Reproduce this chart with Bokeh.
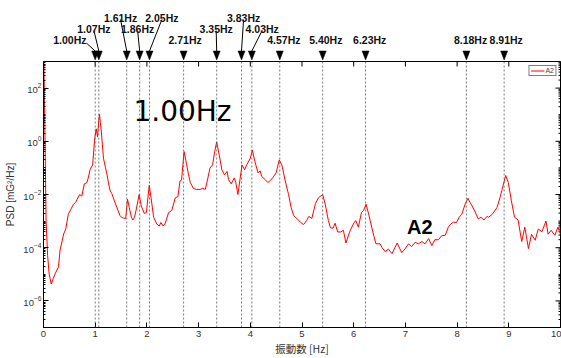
import math
from bokeh.plotting import figure
from bokeh.layouts import column
from bokeh.models import Span, FixedTicker, Range1d
from bokeh.core.properties import value
from bokeh.embed import file_html
from bokeh.resources import INLINE

# ---------------- data ----------------
freq = [0.00, 0.03, 0.05, 0.08, 0.11, 0.15, 0.19, 0.23, 0.29, 0.32, 0.36, 0.39, 0.43,
        0.48, 0.53, 0.58, 0.62, 0.65, 0.70, 0.74, 0.79, 0.84, 0.87, 0.90, 0.95, 0.97,
        0.99, 1.02, 1.045, 1.065, 1.083, 1.10, 1.12, 1.16, 1.20, 1.23, 1.26, 1.29, 1.32,
        1.35, 1.42, 1.48, 1.51, 1.55, 1.59, 1.625, 1.66, 1.70, 1.73, 1.76, 1.79, 1.85,
        1.89, 1.95, 1.99, 2.045, 2.08, 2.13, 2.19, 2.24, 2.27, 2.31, 2.35, 2.42, 2.48,
        2.55, 2.60, 2.64, 2.67, 2.72, 2.77, 2.80, 2.84, 2.90, 2.96, 3.03, 3.08, 3.13,
        3.18, 3.22, 3.27, 3.31, 3.35, 3.40, 3.45, 3.50, 3.55, 3.58, 3.63, 3.69, 3.72,
        3.76, 3.80, 3.84, 3.89, 3.93, 4.00, 4.04, 4.09, 4.15, 4.19, 4.22, 4.29, 4.34,
        4.42, 4.50, 4.56, 4.61, 4.67, 4.74, 4.79, 4.84, 4.90, 4.97, 5.03, 5.09, 5.13,
        5.19, 5.26, 5.32, 5.40, 5.45, 5.51, 5.55, 5.60, 5.64, 5.69, 5.75, 5.80, 5.85,
        5.92, 6.00, 6.04, 6.09, 6.15, 6.19, 6.24, 6.29, 6.37, 6.43, 6.51, 6.55, 6.61,
        6.67, 6.74, 6.84, 6.93, 6.99, 7.06, 7.12, 7.19, 7.25, 7.32, 7.38, 7.45, 7.51,
        7.57, 7.64, 7.70, 7.77, 7.83, 7.88, 7.93, 7.99, 8.04, 8.09, 8.16, 8.21, 8.25,
        8.29, 8.35, 8.41, 8.46, 8.52, 8.58, 8.61, 8.68, 8.77, 8.83, 8.87, 8.94, 8.99,
        9.05, 9.11, 9.18, 9.25, 9.31, 9.38, 9.44, 9.51, 9.57, 9.64, 9.72, 9.76, 9.82,
        9.89, 9.95, 10.00]
psd = [1e4, 1.0, 1e-3, 5.0e-5, 1.0e-5, 4.3e-6, 7.1e-6, 1.1e-5, 1.9e-5, 8.1e-5, 1.8e-4,
       3.3e-4, 5.0e-4, 1.8e-3, 2.8e-3, 4.3e-3, 5.0e-3, 6.6e-3, 1.0e-2, 8.7e-3, 2.5e-2,
       2.8e-2, 4.5e-2, 8.5e-2, 0.13, 0.4, 1.26, 2.95, 1.45, 5.0, 10.5, 5.0, 2.2, 0.23,
       0.1, 0.055, 0.025, 0.0135, 0.011, 7.6e-3, 3.2e-3, 1.6e-3, 1.4e-3, 1.3e-3, 1.26e-3,
       6.6e-3, 3.2e-3, 1.4e-3, 1.1e-3, 1.4e-3, 2.5e-3, 0.01, 3.7e-3, 1.95e-3, 2.1e-3,
       0.022, 7.6e-3, 1.4e-3, 7.8e-4, 6.5e-4, 8.9e-4, 6.6e-4, 7.8e-4, 2.1e-3, 2.5e-3,
       7.6e-3, 8.3e-3, 0.032, 0.035, 0.41, 0.13, 0.063, 0.028, 0.017, 0.0155, 0.0155,
       0.017, 0.0155, 0.042, 0.098, 0.13, 0.4, 0.95, 0.30, 0.085, 0.055, 0.074, 0.036,
       0.025, 0.042, 0.028, 0.01, 0.036, 0.13, 0.085, 0.13, 0.23, 0.47, 0.17, 0.065,
       0.078, 0.048, 0.036, 0.028, 0.039, 0.065, 0.20, 0.13, 0.036, 0.01, 3.2e-3, 1.6e-3,
       1.26e-3, 9.1e-4, 7.4e-4, 1.05e-3, 1.5e-3, 1.26e-3, 4.6e-3, 7.6e-3, 0.01, 4.3e-3,
       1.05e-3, 5.6e-4, 5.4e-4, 8.3e-4, 3.9e-4, 3.9e-4, 4.5e-4, 1.5e-4, 3.9e-4, 8.3e-4,
       1.05e-3, 5.9e-4, 2.1e-3, 2.5e-3, 4.3e-3, 1.8e-3, 3.9e-4, 1.4e-4, 1.4e-4, 1.0e-4,
       7.1e-5, 8.9e-5, 6.0e-5, 1.5e-4, 6.5e-5, 8.9e-5, 1.4e-4, 1.1e-4, 1.6e-4, 1.4e-4,
       1.7e-4, 1.4e-4, 2.2e-4, 1.2e-4, 2.0e-4, 2.0e-4, 2.8e-4, 2.9e-4, 5.9e-4, 7.9e-4,
       9.1e-4, 8.9e-4, 1.4e-3, 1.8e-3, 4.6e-3, 7.2e-3, 5.0e-3, 3.7e-3, 2.2e-3, 1.2e-3,
       1.4e-3, 1.1e-3, 1.5e-3, 1.4e-3, 1.8e-3, 3.2e-3, 7.6e-3, 0.0155, 0.052, 0.028,
       5.8e-3, 1.4e-3, 1.1e-3, 1.7e-4, 5.9e-4, 9.3e-5, 3.2e-4, 1.9e-4, 5.0e-4, 4.0e-4,
       1.0e-3, 3.2e-4, 4.5e-4, 2.9e-4, 5.9e-4, 3.2e-4]

peak_freqs = [1.00, 1.07, 1.61, 1.86, 2.05, 2.71, 3.35, 3.83, 4.03, 4.57, 5.40, 6.23, 8.18, 8.91]
peak_labels = ["1.00Hz", "1.07Hz", "1.61Hz", "1.86Hz", "2.05Hz", "2.71Hz", "3.35Hz",
               "3.83Hz", "4.03Hz", "4.57Hz", "5.40Hz", "6.23Hz", "8.18Hz", "8.91Hz"]
x_ticks = [0, 1, 2, 3, 4, 5, 6, 7, 8, 9, 10]
y_ticks = [1e-6, 1e-4, 1e-2, 1e0, 1e2]
series_name = "A2"
highlight_text = "1.00Hz"

# ---------------- layout (placement of the peak labels) ----------------
label_cx = [0.51, 0.975, 1.49, 1.82, 2.29, 2.74, 3.34, 3.87, 4.23, 4.65, 5.46, 6.31, 8.26, 8.95]
label_row = [3, 2, 1, 2, 1, 3, 2, 1, 2, 3, 3, 3, 3, 3]
row_base = {1: 42.5, 2: 31.5, 3: 20.5}   # text baseline, px above the annotation strip bottom

W = 561
BL, BR = 43, 1
HT = 60                 # annotation strip height
HM = 358 - HT           # main figure height
FW = W - BL - BR
PPX = FW / 10.0
TRI_HW = 3.5 / PPX      # half width of the marker triangles (data units)
TRI_TIP, TRI_TOP = 0.5, 9.5

xr = Range1d(0, 10)
tick_font = "Liberation Sans"

# ---------------- annotation strip above the frame ----------------
ann = figure(width=W, height=HT, x_range=xr, y_range=Range1d(0, HT),
             min_border_left=BL, min_border_right=BR, min_border_top=0, min_border_bottom=0,
             x_axis_location=None, y_axis_location=None, output_backend="svg",
             toolbar_location=None)
ann.outline_line_color = None
ann.xgrid.visible = False
ann.ygrid.visible = False
ann.background_fill_color = "white"
ann.border_fill_color = "white"

HW = 16.5 / PPX
sx0, sy0, sx1, sy1 = [], [], [], []
for f, cx, row in zip(peak_freqs, label_cx, label_row):
    base = row_base[row]
    if abs(f - cx) > HW:
        sx0.append(cx + HW * (1 if f > cx else -1)); sy0.append(base - 3)
    elif row < 3:
        sx0.append(cx); sy0.append(base - 1.5)
    else:
        continue
    sx1.append(f); sy1.append(TRI_TOP)
ann.segment(x0=sx0, y0=sy0, x1=sx1, y1=sy1, line_color="black", line_width=1)
ann.patches(xs=[[f - TRI_HW, f + TRI_HW, f] for f in peak_freqs],
            ys=[[TRI_TOP, TRI_TOP, TRI_TIP] for _ in peak_freqs],
            fill_color="black", line_color="black", line_width=0.5)
ann.text(x=label_cx, y=[row_base[r] for r in label_row], text=peak_labels,
         text_align="center", text_baseline="alphabetic",
         text_font=value(tick_font), text_font_style="bold",
         text_font_size=value("10.5px"), text_color="#111111")

# ---------------- main PSD plot ----------------
p = figure(width=W, height=HM, x_range=xr, y_range=Range1d(1e-7, 1e3), y_axis_type="log",
           output_backend="svg", toolbar_location=None,
           min_border_left=BL, min_border_right=BR, min_border_top=1, min_border_bottom=0)
p.background_fill_color = "white"
p.border_fill_color = "white"
p.outline_line_color = "black"
p.outline_line_width = 1
p.xgrid.visible = False
p.ygrid.visible = False

minor_y = [m * 10 ** e for e in range(-7, 3) for m in range(1, 10)
           if not (m == 1 and 10 ** e in y_ticks)]

for ax in p.yaxis:
    ax.ticker = FixedTicker(ticks=y_ticks, minor_ticks=minor_y)
    ax.major_tick_in = 5
    ax.major_tick_out = 0
    ax.minor_tick_in = 2
    ax.minor_tick_out = 0
    ax.major_label_text_font = tick_font
    ax.major_label_text_font_size = "9.5px"
    ax.major_label_text_color = "#333333"
    ax.major_label_standoff = 2
    ax.axis_label = "PSD [mG²/Hz]"
    ax.axis_label_text_font = tick_font
    ax.axis_label_text_font_size = "10px"
    ax.axis_label_text_font_style = "normal"
    ax.axis_label_text_color = "#333333"
    ax.axis_label_standoff = 4

for ax in p.xaxis:
    ax.ticker = FixedTicker(ticks=x_ticks)
    ax.major_tick_in = 5
    ax.major_tick_out = 0
    ax.minor_tick_line_color = None
    ax.major_label_text_font = tick_font
    ax.major_label_text_font_size = "9.5px"
    ax.major_label_text_color = "#333333"
    ax.major_label_standoff = 3
    ax.axis_label = "振動数 [Hz]"
    ax.axis_label_text_font = "Noto Sans CJK JP"
    ax.axis_label_text_font_size = "10.5px"
    ax.axis_label_text_font_style = "normal"
    ax.axis_label_text_color = "#333333"
    ax.axis_label_standoff = 1

# inward tick marks on the top and right frame edges (half of each dash is clipped)
p.scatter(x=x_ticks, y=[1e3] * len(x_ticks), marker="dash", size=10, angle=math.pi / 2,
          line_color="black", line_width=1)
p.scatter(x=[10] * len(y_ticks), y=y_ticks, marker="dash", size=10,
          line_color="black", line_width=1)
p.scatter(x=[10] * len(minor_y), y=minor_y, marker="dash", size=4,
          line_color="black", line_width=1)

for f in peak_freqs:
    p.add_layout(Span(location=f, dimension="height", line_color="#555555",
                      line_dash="2 2", line_width=0.8))

p.line(freq, psd, line_color="red", line_width=1, legend_label=series_name)

p.text(x=[1.74], y=[10 ** 1.12], text=[highlight_text], text_font=value("DejaVu Sans"),
       text_font_size=value("28px"), text_color="black", text_baseline="alphabetic")
p.text(x=[7.03], y=[10 ** -3.23], text=[series_name], text_font=value(tick_font),
       text_font_style="bold", text_font_size=value("20px"), text_color="black",
       text_baseline="alphabetic")

lg = p.legend[0]
lg.location = "top_right"
lg.margin = 4
lg.padding = 1
lg.spacing = 0
lg.glyph_width = 14
lg.glyph_height = 7
lg.label_height = 7
lg.label_width = 8
lg.label_standoff = 1
lg.label_text_font = tick_font
lg.label_text_font_size = "7px"
lg.border_line_color = "black"
lg.border_line_width = 0.7
lg.background_fill_alpha = 1

layout = column(ann, p, spacing=0)
open("out.html", "w").write(file_html(layout, INLINE))
